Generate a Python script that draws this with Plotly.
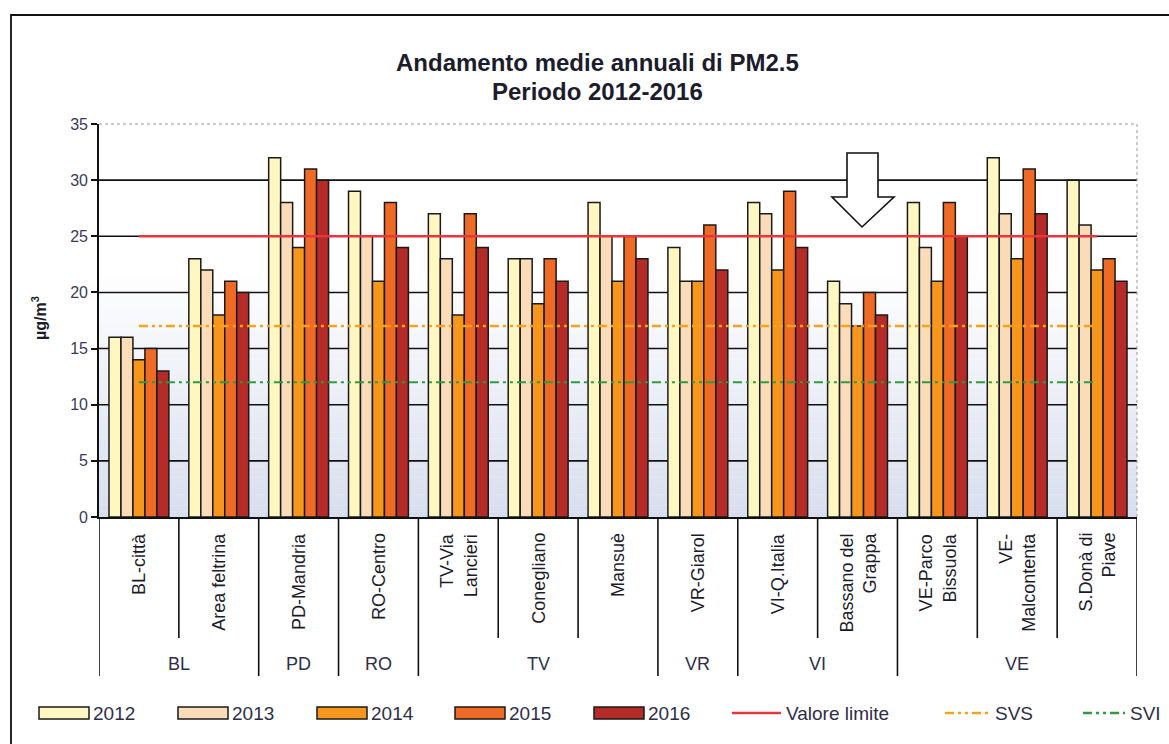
import plotly.graph_objects as go

# Stations, provinces and annual mean PM2.5 (µg/m³)
stations = ["BL-città", "Area feltrina", "PD-Mandria", "RO-Centro", "TV-Via Lancieri",
            "Conegliano", "Mansuè", "VR-Giarol", "VI-Q.Italia", "Bassano del Grappa",
            "VE-Parco Bissuola", "VE-Malcontenta", "S.Donà di Piave"]
station_labels = ["BL-città", "Area feltrina", "PD-Mandria", "RO-Centro", "TV-Via<br>Lancieri",
                  "Conegliano", "Mansuè", "VR-Giarol", "VI-Q.Italia", "Bassano del<br>Grappa",
                  "VE-Parco<br>Bissuola", "VE-<br>Malcontenta", "S.Donà di<br>Piave"]
provinces = ["BL", "PD", "RO", "TV", "VR", "VI", "VE"]
province_sizes = [2, 1, 1, 3, 1, 2, 3]

years = ["2012", "2013", "2014", "2015", "2016"]
pm_2012 = [16, 23, 32, 29, 27, 23, 28, 24, 28, 21, 28, 32, 30]
pm_2013 = [16, 22, 28, 25, 23, 23, 25, 21, 27, 19, 24, 27, 26]
pm_2014 = [14, 18, 24, 21, 18, 19, 21, 21, 22, 17, 21, 23, 22]
pm_2015 = [15, 21, 31, 28, 27, 23, 25, 26, 29, 20, 28, 31, 23]
pm_2016 = [13, 20, 30, 24, 24, 21, 23, 22, 24, 18, 25, 27, 21]
series = [pm_2012, pm_2013, pm_2014, pm_2015, pm_2016]

valore_limite = 25
svs = 17
svi = 12
y_ticks = [0, 5, 10, 15, 20, 25, 30, 35]

bar_colors = ["#FFF7C2", "#FADCB8", "#F6961C", "#EF6A25", "#B52B27"]
limit_color = "#E8363F"
svs_color = "#F5A21E"
svi_color = "#2E9B40"
dashdotdot = "9px,4px,3px,4px,3px,4px"

W, H = 1169, 744
L, R, T, B = 99, 1137, 124, 517
FONT = "Liberation Sans, Arial, sans-serif"
TEXT_DARK = "#1c1c2c"
TEXT_SOFT = "#2e2e48"


def px_x(x):
    return (x - L) / (R - L)


def px_y(y):
    return (B - y) / (B - T)


fig = go.Figure()

for name, vals, col in zip(years, series, bar_colors):
    fig.add_trace(go.Bar(x=stations, y=vals, name=name, marker_color=col,
                         marker_line_color="#1a1a1a", marker_line_width=1.5))

for name, val, col, dash, wid in [("Valore limite", valore_limite, limit_color, "solid", 2.5),
                                  ("SVS", svs, svs_color, dashdotdot, 2.5),
                                  ("SVI", svi, svi_color, dashdotdot, 2)]:
    fig.add_trace(go.Scatter(x=stations, y=[val] * len(stations), name=name, mode="lines",
                             line=dict(color=col, width=wid, dash=dash)))

shapes = []
# soft bluish fade at the bottom of the plot area
top_c, bot_c = (255, 255, 255), (216, 222, 238)
n_bands = 44
fade_top = 22.0
for i in range(n_bands):
    y0 = fade_top * i / n_bands
    y1 = fade_top * (i + 1) / n_bands
    f = 1 - (i + 0.5) / n_bands
    c = tuple(round(top_c[k] + (bot_c[k] - top_c[k]) * f) for k in range(3))
    shapes.append(dict(type="rect", xref="paper", yref="y", x0=0, x1=1, y0=y0, y1=y1 + 0.02,
                       fillcolor="rgb(%d,%d,%d)" % c, line_width=0, layer="below"))

# horizontal gridlines
for v in y_ticks[1:-1]:
    shapes.append(dict(type="line", xref="paper", yref="y", x0=0, x1=1, y0=v, y1=v,
                       line=dict(color="#111111", width=1.6), layer="below"))
# plot area top and right border
shapes.append(dict(type="line", xref="paper", yref="paper", x0=0, x1=1, y0=1, y1=1,
                   line=dict(color="#9a9a9a", width=1, dash="dot")))
shapes.append(dict(type="line", xref="paper", yref="paper", x0=1, x1=1, y0=0, y1=1,
                   line=dict(color="#9a9a9a", width=1, dash="dot")))

# category dividers below the axis
group_edges = [-0.5]
for s in province_sizes:
    group_edges.append(group_edges[-1] + s)
for i in range(len(stations) + 1):
    xpos = i - 0.5
    long_line = xpos in group_edges
    shapes.append(dict(type="line", xref="x", yref="paper", x0=xpos, x1=xpos,
                       y0=0, y1=px_y(676 if long_line else 638),
                       line=dict(color="#111111", width=1.6)))

# outer chart frame
shapes.append(dict(type="rect", xref="paper", yref="paper",
                   x0=px_x(11), x1=px_x(1190), y0=px_y(15), y1=px_y(770),
                   line=dict(color="#111111", width=1.8), fillcolor="rgba(0,0,0,0)"))

# arrow marker above Bassano del Grappa
ax = [847, 878, 878, 894, 862, 832, 847]
ay = [153, 153, 197, 197, 227, 197, 197]
path = "M " + " L ".join("%f,%f" % (px_x(a), px_y(b)) for a, b in zip(ax, ay)) + " Z"
shapes.append(dict(type="path", xref="paper", yref="paper", path=path,
                   fillcolor="white", line=dict(color="#111111", width=1.6)))

annotations = []
# title
for line, yy in [("Andamento medie annuali di PM2.5", 62), ("Periodo 2012-2016", 92)]:
    annotations.append(dict(text="<b>%s</b>" % line, xref="paper", yref="paper",
                            x=px_x(597), y=px_y(yy), xanchor="center", yanchor="middle",
                            showarrow=False, font=dict(family=FONT, size=24, color=TEXT_DARK)))
# y title
annotations.append(dict(text="<b>µg/m<sup>3</sup></b>", xref="paper", yref="paper",
                        x=px_x(39), y=px_y(318), xanchor="center", yanchor="middle",
                        showarrow=False, textangle=-90,
                        font=dict(family=FONT, size=16, color=TEXT_DARK)))

# station labels
for st, lab in zip(stations, station_labels):
    annotations.append(dict(text=lab, x=st, xref="x", yref="paper", y=px_y(531),
                            yanchor="top", xanchor="center", align="right",
                            showarrow=False, textangle=-90,
                            font=dict(family=FONT, size=18, color=TEXT_DARK)))
# province labels
for pname, a, b in zip(provinces, group_edges[:-1], group_edges[1:]):
    annotations.append(dict(text=pname, x=(a + b) / 2, xref="x", yref="paper", y=px_y(664),
                            xanchor="center", yanchor="middle", showarrow=False,
                            font=dict(family=FONT, size=18, color=TEXT_SOFT)))

# legend
leg_y = 713
for name, col, x0 in zip(years, bar_colors, [39, 178, 317, 455, 594]):
    shapes.append(dict(type="rect", xref="paper", yref="paper",
                       x0=px_x(x0), x1=px_x(x0 + 50), y0=px_y(leg_y - 6), y1=px_y(leg_y + 6),
                       fillcolor=col, line=dict(color="#1a1a1a", width=1.5)))
    annotations.append(dict(text=name, xref="paper", yref="paper", x=px_x(x0 + 52), y=px_y(leg_y),
                            xanchor="left", yanchor="middle", showarrow=False,
                            font=dict(family=FONT, size=19, color=TEXT_SOFT)))
for name, col, dash, x0, x1 in [("Valore limite", limit_color, "solid", 732, 781),
                                ("SVS", svs_color, dashdotdot, 945, 990),
                                ("SVI", svi_color, dashdotdot, 1083, 1125)]:
    shapes.append(dict(type="line", xref="paper", yref="paper",
                       x0=px_x(x0), x1=px_x(x1), y0=px_y(leg_y), y1=px_y(leg_y),
                       line=dict(color=col, width=2.5, dash=dash)))
    annotations.append(dict(text=name, xref="paper", yref="paper", x=px_x(x1 + 3), y=px_y(leg_y),
                            xanchor="left", yanchor="middle", showarrow=False,
                            font=dict(family=FONT, size=19, color=TEXT_SOFT)))

fig.update_layout(
    width=W, height=H, autosize=False,
    margin=dict(l=L, r=W - R, t=T, b=H - B, pad=0),
    paper_bgcolor="white", plot_bgcolor="white",
    barmode="group", bargap=0.25, bargroupgap=0,
    showlegend=False,
    shapes=shapes, annotations=annotations,
    font=dict(family=FONT, color=TEXT_SOFT),
    xaxis=dict(type="category", range=[-0.5, len(stations) - 0.5], showticklabels=False,
               showgrid=False, showline=True, linecolor="#111111", linewidth=1.6,
               ticks="", zeroline=False),
    yaxis=dict(range=[0, 35], tickvals=y_ticks, showgrid=False, zeroline=False,
               showline=True, linecolor="#111111", linewidth=1.6,
               ticks="outside", ticklen=6, tickwidth=1.6, tickcolor="#111111",
               tickfont=dict(family=FONT, size=16, color="#3a3a5c")),
)

fig.write_html("out.html")
